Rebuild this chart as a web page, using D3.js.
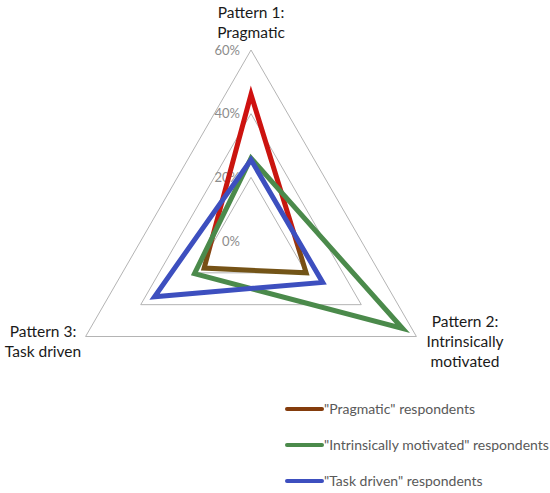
<!DOCTYPE html>
<html>
<head>
<meta charset="utf-8">
<script src="https://cdn.jsdelivr.net/npm/d3@7"></script>
<style>
  body { margin: 0; background: #fff; }
  text { font-family: Lato, "Open Sans", sans-serif; }
</style>
</head>
<body>
<svg id="chart" width="550" height="493"></svg>
<script>
(function () {
  'use strict';

  // axes, clockwise from the top
  const categories = [
    ["Pattern 1:", "Pragmatic"],
    ["Pattern 2:", "Intrinsically", "motivated"],
    ["Pattern 3:", "Task driven"]
  ];
  const tickValues = [0, 0.2, 0.4, 0.6];
  const seriesNames = ['"Pragmatic" respondents', '"Intrinsically motivated" respondents', '"Task driven" respondents'];
  const pragmatic = [0.46, 0.20, 0.17];
  const intrinsic = [0.26, 0.55, 0.205];
  const taskDriven = [0.255, 0.26, 0.35];

  const series = [
    { name: seriesNames[0], values: pragmatic, stroke: "url(#pragGrad)", legend: "#843c0c" },
    { name: seriesNames[1], values: intrinsic, stroke: "#4b8a4b", legend: "#4b8a4b" },
    { name: seriesNames[2], values: taskDriven, stroke: "#3d4fbf", legend: "#3d4fbf" }
  ];

  const cx = 251, cy = 241;
  const svg = d3.select("#chart");

  const r = d3.scaleLinear().domain([0, 0.6]).range([0, 191]);
  const angle = i => i * 2 * Math.PI / categories.length;

  // red on the upper edges fading to brown on the bottom edge
  const defs = svg.append("defs");
  const grad = defs.append("linearGradient")
    .attr("id", "pragGrad")
    .attr("gradientUnits", "userSpaceOnUse")
    .attr("x1", 0).attr("y1", -150).attr("x2", 0).attr("y2", 40);
  grad.append("stop").attr("offset", "0%").attr("stop-color", "#d01010");
  grad.append("stop").attr("offset", "72%").attr("stop-color", "#c41a0e");
  grad.append("stop").attr("offset", "86%").attr("stop-color", "#7d4a12");
  grad.append("stop").attr("offset", "100%").attr("stop-color", "#6e5a1a");

  const g = svg.append("g").attr("transform", `translate(${cx},${cy})`);

  const radial = d3.lineRadial()
    .angle((d, i) => angle(i))
    .radius(d => r(d))
    .curve(d3.curveLinearClosed);

  // grid triangles
  g.selectAll(".grid")
    .data(tickValues.filter(v => v > 0))
    .join("path")
    .attr("class", "grid")
    .attr("d", v => radial(categories.map(() => v)))
    .attr("fill", "none")
    .attr("stroke", "#b4b4b4")
    .attr("stroke-width", 1);

  // tick labels
  g.selectAll(".tick")
    .data(tickValues)
    .join("text")
    .attr("class", "tick")
    .attr("x", -11)
    .attr("y", v => -r(v))
    .attr("dy", "0.35em")
    .attr("text-anchor", "end")
    .attr("font-size", 13)
    .attr("fill", "#8c8c8c")
    .text(d3.format(".0%"));

  // series
  g.selectAll(".series")
    .data(series)
    .join("path")
    .attr("class", "series")
    .attr("d", d => radial(d.values))
    .attr("fill", "none")
    .attr("stroke", d => d.stroke)
    .attr("stroke-width", 5)
    .attr("stroke-linejoin", "miter");

  // category labels
  const labelPos = [
    { x: 251, y: 13 },
    { x: 465, y: 322 },
    { x: 43, y: 332 }
  ];
  categories.forEach((lines, i) => {
    const t = svg.append("text")
      .attr("x", labelPos[i].x)
      .attr("y", labelPos[i].y)
      .attr("text-anchor", "middle")
      .attr("font-size", 15.5)
      .attr("fill", "#1a1a1a");
    lines.forEach((line, j) => {
      t.append("tspan")
        .attr("x", labelPos[i].x)
        .attr("dy", j === 0 ? "0.35em" : 20)
        .text(line);
    });
  });

  // legend
  const legend = svg.append("g").attr("transform", "translate(287,409)");
  const items = legend.selectAll("g")
    .data(series)
    .join("g")
    .attr("transform", (d, i) => `translate(0,${i * 36})`);
  items.append("line")
    .attr("x1", 0).attr("x2", 35)
    .attr("stroke", d => d.legend)
    .attr("stroke-width", 4)
    .attr("stroke-linecap", "round");
  items.append("text")
    .attr("x", 37)
    .attr("dy", "0.35em")
    .attr("font-size", 14)
    .attr("fill", "#595959")
    .text(d => d.name);

})();
</script>
</body>
</html>
